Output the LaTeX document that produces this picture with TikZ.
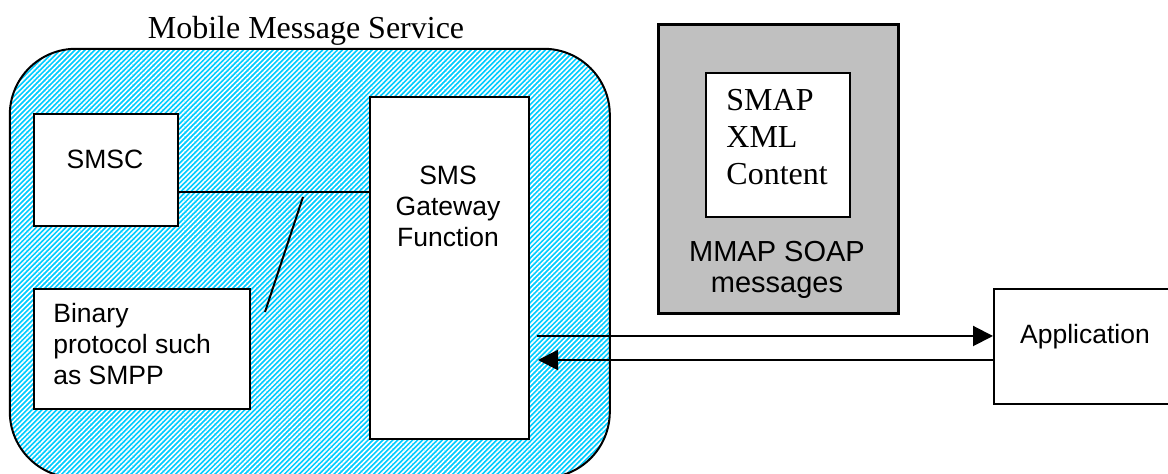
\documentclass[tikz,border=0pt]{standalone}
\usepackage{fontspec}
\setmainfont{Liberation Serif}
\setsansfont{Liberation Sans}
\usetikzlibrary{positioning,arrows.meta,patterns.meta}

\newlength\pxu
\setlength\pxu{0.5pt}

\definecolor{hatchblue}{RGB}{0,204,255}
\definecolor{soapgray}{RGB}{192,192,192}

\tikzset{
  box/.style={draw, rectangle, line width=1pt, fill=white, inner sep=0pt, anchor=north west},
  sanslabel/.style={font=\sffamily\fontsize{13.25}{15.5}\selectfont, inner sep=0pt, anchor=base},
  seriflabel/.style={font=\rmfamily\fontsize{16}{18.5}\selectfont, inner sep=0pt, anchor=base},
  link/.style={line width=1pt},
  msgarrow/.style={line width=1pt, -{Triangle[length=10pt, width=10pt]}}
}

\begin{document}
\begin{tikzpicture}[x=\pxu, y=-\pxu]
\useasboundingbox (0,0) rectangle (1168,474);

% Caixa arredondada do servico
\node (mms) [draw, rectangle, rounded corners=66\pxu, line width=1pt, anchor=north west,
  minimum width=600\pxu, minimum height=429\pxu,
  preaction={fill=hatchblue},
  pattern={Lines[angle=45, distance=1.75pt, line width=0.8pt]}, pattern color=white] at (9,48) {};
\node (mmstitle) [seriflabel] at (306,39) {Mobile Message Service};

% SMSC
\node (smsc) [box, minimum width=144\pxu, minimum height=112\pxu] at (33,113) {};
\node (smsctext) [sanslabel] at (105,169) {SMSC};

% Protocolo binario (base = ultima linha)
\node (bin) [box, minimum width=216\pxu, minimum height=120\pxu] at (33,288) {};
\node (bintext) [sanslabel, anchor=base west, align=left] at (53,385) {Binary\\protocol such\\as SMPP};

% Gateway
\node (gw) [box, minimum width=159\pxu, minimum height=342\pxu] at (369,96) {};
\node (gwtext) [sanslabel, align=center] at (448,247) {SMS\\Gateway\\Function};

% Ligacoes dentro do servico
\coordinate (smscout) at (177,192);
\draw[link] (smscout) -- (smscout -| gw.west);
\coordinate (slanttop) at (303,197);
\coordinate (slantbot) at (265,312);
\draw[link] (slanttop) -- (slantbot);

% Mensagens SOAP
\node (soap) [box, fill=soapgray, line width=1.3pt, minimum width=240\pxu, minimum height=289\pxu] at (657,23) {};
\node (xml) [box, minimum width=144\pxu, minimum height=144\pxu] at (705,72) {};
\node (xmltext) [seriflabel, anchor=base west, align=left] at (726,185) {SMAP\\XML\\Content};
\node (soaptext) [sanslabel, font=\sffamily\fontsize{14.5}{15.5}\selectfont, align=center] at (777,293) {MMAP SOAP\\messages};

% Aplicacao
\node (app) [box, minimum width=185\pxu, minimum height=115\pxu] at (993,288) {};
\node (apptext) [sanslabel] at (1085,344) {Application};

% Setas
\coordinate (gwout) at (537,336);
\draw[msgarrow] (gwout) -- (gwout -| app.west);
\coordinate (gwin) at (538,360);
\draw[msgarrow] (gwin -| app.west) -- (gwin);

\end{tikzpicture}
\end{document}
